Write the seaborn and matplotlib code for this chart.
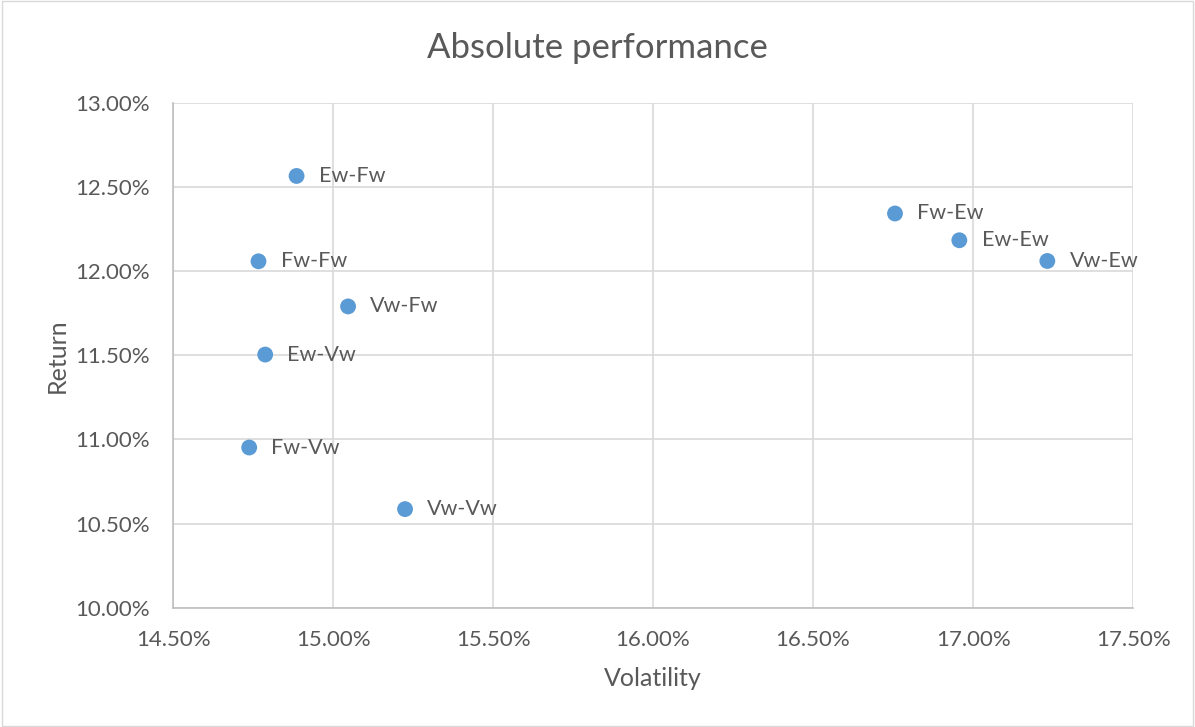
import matplotlib
matplotlib.use("Agg")
import matplotlib.pyplot as plt
import matplotlib.ticker as mticker
import seaborn as sns
import pandas as pd

# Portfolio weighting schemes: volatility and return (in %)
names = ["Ew-Fw", "Fw-Fw", "Vw-Fw", "Ew-Vw", "Fw-Vw", "Vw-Vw", "Fw-Ew", "Ew-Ew", "Vw-Ew"]
volatility = [14.886, 14.767, 15.047, 14.788, 14.738, 15.225, 16.756, 16.957, 17.232]
returns = [12.565, 12.058, 11.790, 11.504, 10.952, 10.586, 12.342, 12.183, 12.060]

x_ticks = [14.5, 15.0, 15.5, 16.0, 16.5, 17.0, 17.5]
y_ticks = [10.0, 10.5, 11.0, 11.5, 12.0, 12.5, 13.0]

df = pd.DataFrame({"name": names, "Volatility": volatility, "Return": returns})

sns.set_theme(style="white")
plt.rcParams["font.family"] = ["Lato", "DejaVu Sans"]
text_color = "#595959"

fig = plt.figure(figsize=(11.95, 7.27), dpi=100)
ax = fig.add_axes([0.1448, 0.164, 0.8034, 0.6947])

sns.scatterplot(data=df, x="Volatility", y="Return", ax=ax, color="#5B9BD5",
                s=130, edgecolor="none", zorder=3)

for n, xv, yv in zip(names, volatility, returns):
    ax.annotate(n, (xv, yv), xytext=(16, 0), textcoords="offset points",
                va="center", ha="left", fontsize=15.5, color=text_color)

ax.set_xlim(x_ticks[0], x_ticks[-1])
ax.set_ylim(y_ticks[0], y_ticks[-1])
ax.set_xticks(x_ticks)
ax.set_yticks(y_ticks)
ax.xaxis.set_major_formatter(mticker.FuncFormatter(lambda v, p: f"{v:.2f}%"))
ax.yaxis.set_major_formatter(mticker.FuncFormatter(lambda v, p: f"{v:.2f}%"))
ax.tick_params(axis="both", labelsize=16, colors=text_color, length=0)
ax.tick_params(axis="x", pad=16)
ax.tick_params(axis="y", pad=17)

ax.grid(True, color="#D9D9D9", linewidth=1.2, zorder=0)
ax.set_axisbelow(True)
for side in ["top", "right"]:
    ax.spines[side].set_visible(False)
for side in ["left", "bottom"]:
    ax.spines[side].set_color("#BFBFBF")
    ax.spines[side].set_linewidth(1.2)

ax.set_xlabel("Volatility", fontsize=18, color=text_color, labelpad=12)
ax.set_ylabel("Return", fontsize=18, color=text_color, labelpad=4)
fig.text(0.5, 0.934, "Absolute performance", ha="center", va="center",
         fontsize=25, color=text_color)

# light frame around the whole chart
fig.patches.append(plt.Rectangle((0.002, 0.002), 0.996, 0.996, transform=fig.transFigure,
                                 fill=False, edgecolor="#D9D9D9", linewidth=1))

fig.savefig("out.png", dpi=100, facecolor="white")
